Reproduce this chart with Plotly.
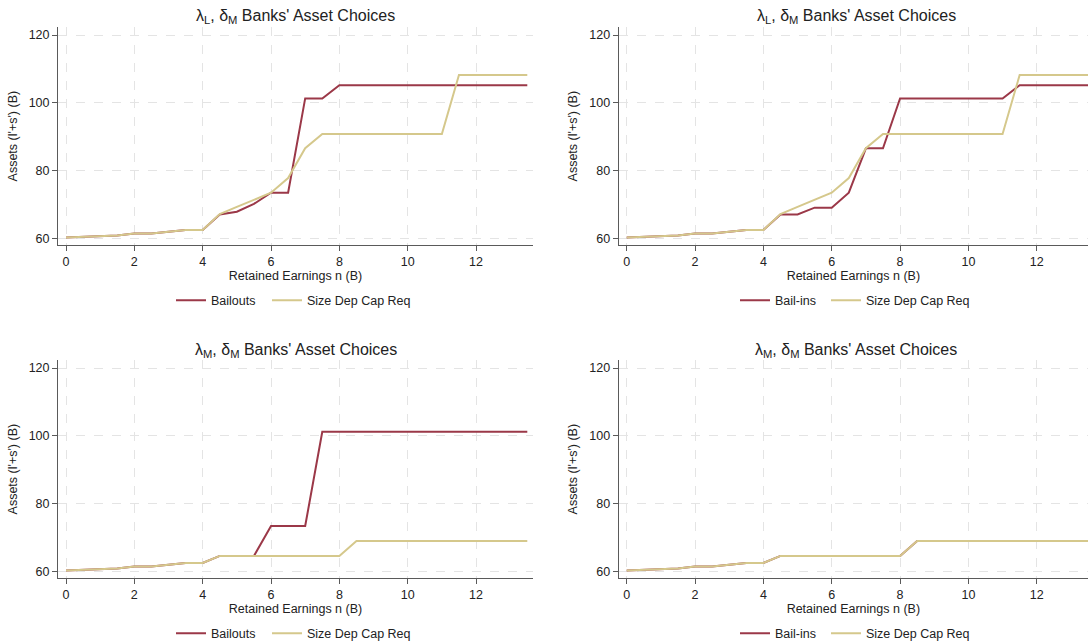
import plotly.graph_objects as go

# ---------------- data ----------------
x_vals = [0, 0.5, 1, 1.5, 2, 2.5, 3, 3.5, 4, 4.5, 5, 5.5, 6, 6.5, 7, 7.5,
          8, 8.5, 9, 9.5, 10, 10.5, 11, 11.5, 12, 12.5, 13, 13.5]

# top-left: lambda_L, delta_M
tl_bailouts = [60.3, 60.55, 60.8, 60.85, 61.5, 61.5, 62.0, 62.5, 62.5,
               67.1, 67.9, 70.2, 73.5, 73.5, 101.3, 101.3,
               105.2, 105.2, 105.2, 105.2, 105.2, 105.2, 105.2, 105.2, 105.2, 105.2, 105.2, 105.2]
tl_sizedep = [60.3, 60.55, 60.8, 60.85, 61.5, 61.5, 62.0, 62.5, 62.5,
              67.2, 69.3, 71.3, 73.5, 77.8, 86.6, 90.8,
              90.8, 90.8, 90.8, 90.8, 90.8, 90.8, 90.8, 108.2, 108.2, 108.2, 108.2, 108.2]

# top-right: lambda_L, delta_M (bail-ins)
tr_bailins = [60.3, 60.55, 60.8, 60.85, 61.5, 61.5, 62.0, 62.5, 62.5,
              67.1, 67.1, 69.1, 69.1, 73.5, 86.6, 86.6,
              101.3, 101.3, 101.3, 101.3, 101.3, 101.3, 101.3, 105.2, 105.2, 105.2, 105.2, 105.2]
tr_sizedep = tl_sizedep

# bottom-left: lambda_M, delta_M
bl_bailouts = [60.3, 60.55, 60.8, 60.85, 61.5, 61.5, 62.0, 62.5, 62.5,
               64.6, 64.6, 64.6, 73.4, 73.4, 73.4, 101.2,
               101.2, 101.2, 101.2, 101.2, 101.2, 101.2, 101.2, 101.2, 101.2, 101.2, 101.2, 101.2]
bl_sizedep = [60.3, 60.55, 60.8, 60.85, 61.5, 61.5, 62.0, 62.5, 62.5,
              64.6, 64.6, 64.6, 64.6, 64.6, 64.6, 64.6,
              64.6, 69.0, 69.0, 69.0, 69.0, 69.0, 69.0, 69.0, 69.0, 69.0, 69.0, 69.0]

# bottom-right: lambda_M, delta_M (bail-ins identical to size dep)
br_bailins = bl_sizedep
br_sizedep = bl_sizedep

x_ticks = [0, 2, 4, 6, 8, 10, 12]
y_ticks = [60, 80, 100, 120]

titles = ["λ<sub>L</sub>, δ<sub>M</sub> Banks' Asset Choices",
          "λ<sub>L</sub>, δ<sub>M</sub> Banks' Asset Choices",
          "λ<sub>M</sub>, δ<sub>M</sub> Banks' Asset Choices",
          "λ<sub>M</sub>, δ<sub>M</sub> Banks' Asset Choices"]
x_title = "Retained Earnings n (B)"
y_title = "Assets (l'+s') (B)"

# ---------------- styling ----------------
W, H = 1088, 641
RED = "rgb(155,56,72)"
TAN = "rgb(213,200,140)"
FONT = "Liberation Sans, Arial, sans-serif"
AX = "#5a5a5a"
GRID = "#e4e4e4"


def px_x(p):
    return p / W


def px_y(p):
    return 1 - p / H


fig = go.Figure()

# (xaxis, yaxis, series, names, legend ids, legend x px, legend y px)
panels = [
    ("x", "y", [tl_bailouts, tl_sizedep], ["Bailouts", "Size Dep Cap Req"],
     ["legend", "legend2"], [171, 267], 300.7),
    ("x2", "y2", [tr_bailins, tr_sizedep], ["Bail-ins", "Size Dep Cap Req"],
     ["legend3", "legend4"], [735, 826], 300.7),
    ("x3", "y3", [bl_bailouts, bl_sizedep], ["Bailouts", "Size Dep Cap Req"],
     ["legend5", "legend6"], [171, 267], 633.7),
    ("x4", "y4", [br_bailins, br_sizedep], ["Bail-ins", "Size Dep Cap Req"],
     ["legend7", "legend8"], [735, 826], 633.7),
]

legend_style = dict(orientation="h", xanchor="left", yanchor="middle",
                    bgcolor="rgba(0,0,0,0)", borderwidth=0,
                    font=dict(family=FONT, size=12.5, color="#222"))
legend_layout = {}

for xa, ya, series, names, legs, lxs, ly in panels:
    for s, n, c, lg, lx in zip(series, names, [RED, TAN], legs, lxs):
        fig.add_trace(go.Scatter(x=x_vals, y=s, name=n, mode="lines",
                                 line=dict(color=c, width=2),
                                 xaxis=xa, yaxis=ya, legend=lg,
                                 showlegend=True, hoverinfo="skip"))
        legend_layout[lg] = dict(legend_style, x=px_x(lx), y=px_y(ly))

# geometry (pixels)
unit = 34.17
left_x0, right_x0 = 66.0, 626.7
left_dom = (58.0, 533.0)
right_dom = (618.7, 1088.0)
top_dom = (27.3, 245.0)
bot_dom = (360.3, 578.0)
yrange = [58.08, 122.27]


def xaxis(dom, x0):
    return dict(domain=[px_x(dom[0]), px_x(dom[1])],
                range=[(dom[0] - x0) / unit, (dom[1] - x0) / unit],
                tickvals=x_ticks, ticks="outside", ticklen=5, tickcolor=AX,
                ticklabelstandoff=0,
                showline=True, linecolor=AX, linewidth=1,
                showgrid=True, gridcolor=GRID, griddash="dash", gridwidth=1,
                zeroline=False,
                tickfont=dict(family=FONT, size=12.5, color="#222"),
                title=dict(text=x_title, font=dict(family=FONT, size=12.5, color="#222"),
                           standoff=2))


def yaxis(dom, anchor):
    return dict(domain=[px_y(dom[1]), px_y(dom[0])], range=yrange, anchor=anchor,
                tickvals=y_ticks, ticks="outside", ticklen=5, tickcolor=AX,
                showline=True, linecolor=AX, linewidth=1,
                showgrid=True, gridcolor=GRID, griddash="dash", gridwidth=1,
                zeroline=False,
                tickfont=dict(family=FONT, size=12.5, color="#222"),
                title=dict(text=y_title, font=dict(family=FONT, size=12.5, color="#222"),
                           standoff=8))


fig.update_layout(
    width=W, height=H,
    showlegend=True,
    margin=dict(l=0, r=0, t=0, b=0, autoexpand=False),
    paper_bgcolor="white", plot_bgcolor="white",
    font=dict(family=FONT, size=12.5, color="#222"),
    xaxis=dict(xaxis(left_dom, left_x0), anchor="y"),
    yaxis=yaxis(top_dom, "x"),
    xaxis2=dict(xaxis(right_dom, right_x0), anchor="y2"),
    yaxis2=yaxis(top_dom, "x2"),
    xaxis3=dict(xaxis(left_dom, left_x0), anchor="y3"),
    yaxis3=yaxis(bot_dom, "x3"),
    xaxis4=dict(xaxis(right_dom, right_x0), anchor="y4"),
    yaxis4=yaxis(bot_dom, "x4"),
    **legend_layout,
)

title_pos = [(295.5, 17), (856, 17), (295.5, 350), (856, 350)]
for t, (tx, ty) in zip(titles, title_pos):
    fig.add_annotation(text=t, x=px_x(tx), y=px_y(ty), xref="paper", yref="paper",
                       xanchor="center", yanchor="middle", showarrow=False,
                       font=dict(family=FONT, size=16, color="#222"))

fig.write_html("out.html",
               config={"displayModeBar": False},
               post_script="document.body.style.margin='0px';"
                           "document.body.style.overflow='hidden';")
